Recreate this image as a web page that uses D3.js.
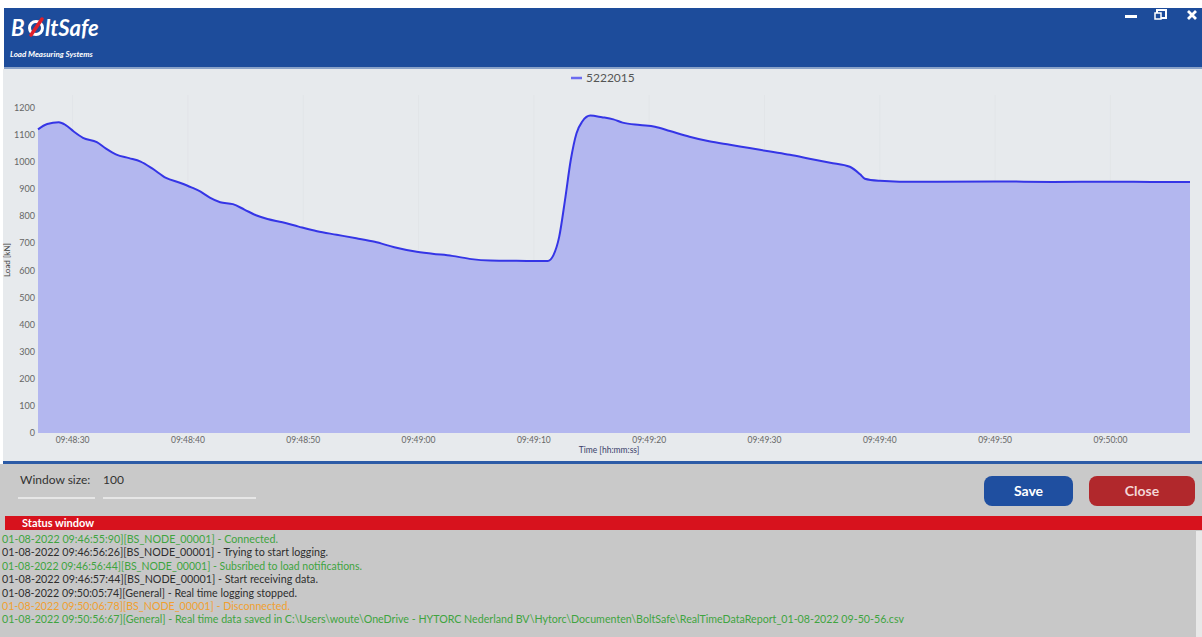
<!DOCTYPE html>
<html>
<head>
<meta charset="utf-8">
<script src="https://cdn.jsdelivr.net/npm/d3@7"></script>
<style>
  html, body { margin: 0; padding: 0; background: #ffffff; overflow: hidden; }
  svg { display: block; font-family: Lato, "Open Sans", sans-serif; }
</style>
</head>
<body>
<div id="app"></div>
<script>
// sample times, seconds after 09:48:00 on 01-08-2022
const seconds = [
  27.0, 27.8, 28.8, 29.4, 30.1, 30.9, 32.1, 32.9, 33.8, 34.9, 35.9, 36.9, 38.1, 39.3,
  40.3, 41.1, 41.9, 42.8, 43.9, 44.9, 45.9, 46.9, 48.2, 49.6, 51.2, 52.9, 54.6, 56.2,
  57.9, 59.6, 61.2, 62.9, 64.6, 66.2, 67.9, 69.6, 71.2, 71.7, 72.2, 72.7, 73.2, 73.7,
  74.2, 74.9, 75.9, 76.9, 77.7, 79.2, 80.5, 81.8, 83.5, 85.2, 87.0, 88.7, 90.5, 92.2,
  93.9, 95.7, 97.4, 98.3, 98.7, 100.0, 101.7, 105.0, 110.0, 115.0, 120.0, 124.0, 126.9
];
// load of sensor 5222015 in kN
const loadKN = [
  1121, 1141, 1147, 1137, 1113, 1090, 1074, 1050, 1028, 1015, 1002, 977, 942, 924,
  907, 891, 869, 852, 845, 825, 804, 790, 778, 762, 745, 732, 719, 706,
  686, 671, 662, 654, 642, 637, 636, 635, 635, 657, 725, 860, 1008, 1107,
  1150, 1172, 1166, 1158, 1146, 1137, 1131, 1115, 1094, 1077, 1064, 1052, 1039, 1027,
  1013, 998, 983, 955, 939, 931, 928, 928, 929, 927, 928, 927, 927
];
const yTicks = [0, 100, 200, 300, 400, 500, 600, 700, 800, 900, 1000, 1100, 1200];
const seriesName = '5222015';

const statusLines = [
  { text: '01-08-2022 09:46:55:90][BS_NODE_00001] - Connected.', color: '#3fa43f', w: 276 },
  { text: '01-08-2022 09:46:56:26][BS_NODE_00001] - Trying to start logging.', color: '#2e2e2e', w: 326 },
  { text: '01-08-2022 09:46:56:44][BS_NODE_00001] - Subsribed to load notifications.', color: '#3fa43f', w: 360 },
  { text: '01-08-2022 09:46:57:44][BS_NODE_00001] - Start receiving data.', color: '#2e2e2e', w: 316 },
  { text: '01-08-2022 09:50:05:74][General] - Real time logging stopped.', color: '#2e2e2e', w: 295 },
  { text: '01-08-2022 09:50:06:78][BS_NODE_00001] - Disconnected.', color: '#f0a030', w: 288 },
  { text: '01-08-2022 09:50:56:67][General] - Real time data saved in C:\\Users\\woute\\OneDrive - HYTORC Nederland BV\\Hytorc\\Documenten\\BoltSafe\\RealTimeDataReport_01-08-2022 09-50-56.csv', color: '#3fa43f', w: 902 }
];

const W = 1202, H = 637;
const baseTime = new Date(2022, 7, 1, 9, 48, 0);
const data = seconds.map((s, i) => ({ t: new Date(baseTime.getTime() + s * 1000), v: loadKN[i] }));

const svg = d3.select('#app').append('svg')
  .attr('width', W)
  .attr('height', H);

// header bar
svg.append('rect').attr('x', 4).attr('y', 8).attr('width', W - 4).attr('height', 60).attr('fill', '#1d4c9b');
svg.append('rect').attr('x', 4).attr('y', 67).attr('width', W - 4).attr('height', 2).attr('fill', '#8aa2c8');

const logo = svg.append('g').attr('font-style', 'italic').attr('font-weight', 'bold').attr('fill', '#ffffff');
logo.append('text').attr('x', 11).attr('y', 36).attr('font-size', 22).text('B');
// emblem in place of the "o"
logo.append('circle').attr('cx', 36).attr('cy', 28).attr('r', 6.5)
  .attr('fill', 'none').attr('stroke', '#ffffff').attr('stroke-width', 3);
logo.append('path').attr('d', 'M31,35 L42,19')
  .attr('stroke', '#e0202a').attr('stroke-width', 3.5).attr('stroke-linecap', 'round');
logo.append('text').attr('x', 45).attr('y', 36).attr('font-size', 22).text('ltSafe');
logo.append('text').attr('x', 10).attr('y', 57).attr('font-size', 8).text('Load Measuring Systems');

// window controls
const ctl = svg.append('g').attr('fill', '#ffffff').attr('stroke', '#ffffff');
ctl.append('rect').attr('x', 1125).attr('y', 15).attr('width', 12).attr('height', 3).attr('stroke', 'none');
ctl.append('rect').attr('x', 1157).attr('y', 10).attr('width', 9).attr('height', 8).attr('fill', 'none').attr('stroke-width', 2);
ctl.append('rect').attr('x', 1155).attr('y', 13).attr('width', 6).attr('height', 6).attr('fill', '#1d4c9b').attr('stroke-width', 1.5);
ctl.append('path').attr('d', 'M1188,11 L1196,19 M1196,11 L1188,19').attr('stroke-width', 2.8);

// chart panel
svg.append('rect').attr('x', 3).attr('y', 69).attr('width', W - 3).attr('height', 392).attr('fill', '#e7eaed');
svg.append('rect').attr('x', 3).attr('y', 461).attr('width', W - 3).attr('height', 3).attr('fill', '#2c5ba6');

const x = d3.scaleTime()
  .domain(d3.extent(data, d => d.t))
  .range([38, 1190]);
const y = d3.scaleLinear()
  .domain([0, 1200])
  .range([433, 108]);

const xTicks = d3.timeSecond.every(10).range(
  new Date(baseTime.getTime() + 30000), new Date(baseTime.getTime() + 121000));

// faint vertical gridlines
svg.append('g').selectAll('line').data(xTicks).join('line')
  .attr('x1', d => x(d)).attr('x2', d => x(d))
  .attr('y1', 95).attr('y2', 433)
  .attr('stroke', '#e2e5e8').attr('stroke-width', 1);

const area = d3.area()
  .x(d => x(d.t)).y0(y(0)).y1(d => y(d.v))
  .curve(d3.curveMonotoneX);
const line = d3.line()
  .x(d => x(d.t)).y(d => y(d.v))
  .curve(d3.curveMonotoneX);

svg.append('path').datum(data).attr('d', area).attr('fill', '#b3b7ef');
svg.append('path').datum(data).attr('d', line)
  .attr('fill', 'none').attr('stroke', '#3535e6').attr('stroke-width', 2);

// y axis labels
svg.append('g').selectAll('text').data(yTicks).join('text')
  .attr('x', 35).attr('y', d => y(d) + 3)
  .attr('text-anchor', 'end')
  .attr('font-size', 9).attr('fill', '#666')
  .text(d => d);
svg.append('text')
  .attr('transform', 'translate(10,260) rotate(-90)')
  .attr('text-anchor', 'middle').attr('font-size', 8).attr('fill', '#444')
  .text('Load [kN]');

// x axis labels
const fmt = d3.timeFormat('%H:%M:%S');
svg.append('g').selectAll('text').data(xTicks).join('text')
  .attr('x', d => x(d)).attr('y', 443)
  .attr('text-anchor', 'middle')
  .attr('font-size', 8.5).attr('fill', '#666')
  .text(d => fmt(d));
svg.append('text')
  .attr('x', 609).attr('y', 453)
  .attr('text-anchor', 'middle').attr('font-size', 8.5).attr('fill', '#3a3f6a')
  .text('Time [hh:mm:ss]');

// legend
svg.append('line').attr('x1', 571).attr('x2', 582).attr('y1', 78).attr('y2', 78)
  .attr('stroke', '#6b6bf0').attr('stroke-width', 2.5);
svg.append('text').attr('x', 586).attr('y', 82).attr('font-size', 12).attr('fill', '#555').text(seriesName);

// control panel
svg.append('rect').attr('x', 0).attr('y', 464).attr('width', W).attr('height', 52).attr('fill', '#c9c9c9');
svg.append('text').attr('x', 20).attr('y', 484).attr('font-size', 12).attr('fill', '#333').text('Window size:');
svg.append('text').attr('x', 103).attr('y', 484).attr('font-size', 12).attr('fill', '#333').text('100');
svg.append('rect').attr('x', 18).attr('y', 497).attr('width', 77).attr('height', 2).attr('fill', '#e6e6e6');
svg.append('rect').attr('x', 103).attr('y', 497).attr('width', 153).attr('height', 2).attr('fill', '#e6e6e6');

const buttons = [
  { label: 'Save', x0: 984, w: 89, fill: '#1f4fa0', color: '#ffffff' },
  { label: 'Close', x0: 1089, w: 106, fill: '#b1282c', color: '#f3d6d6' }
];
const btn = svg.append('g').selectAll('g').data(buttons).join('g');
btn.append('rect')
  .attr('x', d => d.x0).attr('y', 476).attr('width', d => d.w).attr('height', 30)
  .attr('rx', 8).attr('fill', d => d.fill);
btn.append('text')
  .attr('x', d => d.x0 + d.w / 2).attr('y', 496)
  .attr('text-anchor', 'middle').attr('font-size', 14).attr('font-weight', 'bold')
  .attr('fill', d => d.color).text(d => d.label);

// status window
svg.append('rect').attr('x', 0).attr('y', 516).attr('width', W).attr('height', 121).attr('fill', '#c8c8c8');
svg.append('rect').attr('x', 5).attr('y', 516).attr('width', W - 5).attr('height', 14).attr('fill', '#d7121d');
svg.append('text').attr('x', 22).attr('y', 527).attr('font-size', 11).attr('font-weight', 'bold')
  .attr('fill', '#fff').text('Status window');
svg.append('rect').attr('x', 1196).attr('y', 531).attr('width', 6).attr('height', 106).attr('fill', '#e8e8e8');

svg.append('g').selectAll('text').data(statusLines).join('text')
  .attr('x', 2).attr('y', (d, i) => 543 + i * 13.4)
  .attr('font-size', 11).attr('fill', d => d.color)
  .attr('textLength', d => d.w).attr('lengthAdjust', 'spacingAndGlyphs')
  .text(d => d.text);
</script>
</body>
</html>
